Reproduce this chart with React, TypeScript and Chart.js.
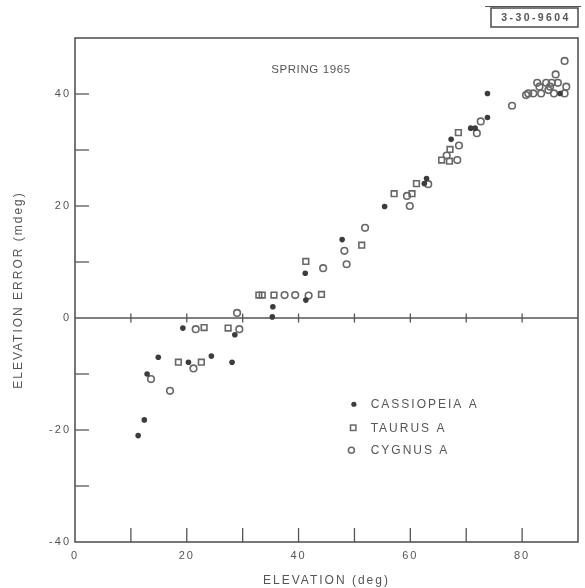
import React, { useEffect, useRef } from 'react';
import { Chart, registerables } from 'chart.js';

Chart.register(...registerables);

// Elevation (deg) and elevation error (mdeg) per radio source
const cassiopeiaElev = [11.3, 12.4, 12.9, 14.9, 19.3, 20.3, 24.4, 28.1, 28.6, 35.3, 35.4, 41.2, 41.3, 47.8, 55.4, 62.5, 62.9, 67.3, 70.8, 71.6, 73.8, 73.8, 86.8];
const cassiopeiaErr = [-21.0, -18.2, -10.0, -7.0, -1.8, -7.9, -6.8, -7.9, -3.0, 0.2, 2.0, 8.0, 3.2, 14.0, 19.9, 24.0, 24.9, 31.9, 33.9, 33.9, 35.8, 40.1, 40.1];

const taurusElev = [18.5, 22.6, 23.1, 27.4, 32.9, 33.5, 35.6, 41.3, 44.1, 51.3, 57.1, 60.3, 61.1, 65.6, 67.0, 67.1, 68.6];
const taurusErr = [-7.9, -7.9, -1.7, -1.8, 4.1, 4.1, 4.1, 10.1, 4.2, 13.0, 22.2, 22.2, 24.0, 28.2, 28.0, 30.1, 33.1];

const cygnusElev = [13.6, 17.0, 21.2, 21.6, 29.0, 29.4, 37.5, 39.4, 41.8, 44.4, 48.2, 48.6, 51.9, 59.4, 59.9, 63.2, 66.5, 68.4, 68.7, 71.9, 72.6, 78.2, 80.7, 81.1, 82.0, 82.7, 83.1, 83.4, 84.3, 84.7, 85.0, 85.3, 85.7, 86.0, 86.4, 87.6, 87.6, 87.9];
const cygnusErr = [-10.9, -13.0, -9.0, -2.0, 0.9, -2.0, 4.1, 4.1, 4.0, 8.9, 12.0, 9.6, 16.1, 21.8, 20.0, 23.9, 29.0, 28.2, 30.8, 33.0, 35.1, 37.9, 39.8, 40.1, 40.1, 42.0, 41.3, 40.1, 42.0, 40.7, 41.3, 42.0, 40.1, 43.5, 42.0, 40.1, 45.9, 41.3];

const seriesNames = ['CASSIOPEIA A', 'TAURUS A', 'CYGNUS A'];
const xTickLabels = [0, 20, 40, 60, 80];
const yTickLabels = [-40, -20, 0, 20, 40];

const INK = '#555555';
const DOT = '#3c3c3c';
const OPEN = '#676767';
const FONT = '"Liberation Sans", Arial, sans-serif';

const toPoints = (xs: number[], ys: number[]) => xs.map((x, i) => ({ x, y: ys[i] }));

const framePlugin = {
  id: 'frame',
  beforeDraw(chart: any) {
    const ctx = chart.ctx as CanvasRenderingContext2D;
    ctx.save();
    ctx.fillStyle = '#fff';
    ctx.fillRect(0, 0, chart.width, chart.height);
    ctx.restore();
    (ctx as any).letterSpacing = '2px';
  },
  beforeDatasetsDraw(chart: any) {
    const ctx = chart.ctx as CanvasRenderingContext2D;
    const { left, right, top, bottom } = chart.chartArea;
    const xs = chart.scales.x;
    const ys = chart.scales.y;
    const y0 = ys.getPixelForValue(0);
    ctx.save();
    ctx.strokeStyle = INK;
    ctx.lineWidth = 1.6;
    ctx.strokeRect(left, top, right - left, bottom - top);
    const seg = (x1: number, y1: number, x2: number, y2: number) => {
      ctx.beginPath();
      ctx.moveTo(x1, y1);
      ctx.lineTo(x2, y2);
      ctx.stroke();
    };
    seg(left, y0, right, y0);
    ctx.lineWidth = 1.3;
    for (const t of xs.ticks) {
      if (t.value <= xs.min || t.value >= xs.max) continue;
      const px = xs.getPixelForValue(t.value);
      seg(px, bottom, px, bottom - 14);
      seg(px, y0 - 4.5, px, y0 + 4.5);
    }
    for (const t of ys.ticks) {
      if (t.value <= ys.min || t.value >= ys.max || t.value === 0) continue;
      const py = ys.getPixelForValue(t.value);
      seg(left, py, left + 14, py);
    }
    ctx.restore();
  },
  afterDraw(chart: any) {
    const ctx = chart.ctx as CanvasRenderingContext2D;
    const { left, right, top } = chart.chartArea;
    const xs = chart.scales.x;
    const ys = chart.scales.y;
    ctx.save();
    ctx.fillStyle = INK;
    ctx.textBaseline = 'middle';

    // season caption inside the plot
    (ctx as any).letterSpacing = '0.6px';
    ctx.font = `11.5px ${FONT}`;
    ctx.textAlign = 'center';
    ctx.fillText('SPRING 1965', left + (right - left) * 0.469, top + 32);

    // legend
    (ctx as any).letterSpacing = '2px';
    ctx.textAlign = 'left';
    ctx.font = `12px ${FONT}`;
    const lx = xs.getPixelForValue(49.9);
    const tx = xs.getPixelForValue(52.9);
    const rows = [-15.4, -19.6, -23.6].map((v) => ys.getPixelForValue(v));
    // filled dot
    ctx.fillStyle = DOT;
    ctx.beginPath();
    ctx.arc(lx, rows[0], 2.6, 0, Math.PI * 2);
    ctx.fill();
    // square
    ctx.strokeStyle = OPEN;
    ctx.lineWidth = 1.5;
    ctx.strokeRect(lx - 3.4, rows[1] - 2.7, 5.4, 5.4);
    // open circle
    ctx.beginPath();
    ctx.arc(lx - 2.5, rows[2], 3, 0, Math.PI * 2);
    ctx.stroke();
    ctx.fillStyle = INK;
    seriesNames.forEach((name, i) => ctx.fillText(name, tx, rows[i] + 0.5));

    // report number stamp
    ctx.strokeStyle = INK;
    ctx.lineWidth = 1.6;
    ctx.strokeRect(491, 8, 87, 19);
    ctx.lineWidth = 1.2;
    ctx.beginPath();
    ctx.moveTo(485, 6.5);
    ctx.lineTo(581, 6.5);
    ctx.stroke();
    ctx.font = `bold 10.5px ${FONT}`;
    (ctx as any).letterSpacing = '2.4px';
    ctx.textAlign = 'center';
    ctx.fillText('3-30-9604', 536, 18);
    ctx.restore();
  },
};

export default function App() {
  const canvasRef = useRef<HTMLCanvasElement | null>(null);

  useEffect(() => {
    const canvas = canvasRef.current;
    if (!canvas) return;
    const chart = new Chart(canvas, {
      type: 'scatter',
      data: {
        datasets: [
          {
            label: seriesNames[0],
            data: toPoints(cassiopeiaElev, cassiopeiaErr),
            pointStyle: 'circle',
            pointRadius: 2.8,
            pointBackgroundColor: DOT,
            pointBorderWidth: 0,
          },
          {
            label: seriesNames[1],
            data: toPoints(taurusElev, taurusErr),
            pointStyle: 'rect',
            pointRadius: 4,
            pointBackgroundColor: 'rgba(255,255,255,0)',
            pointBorderColor: OPEN,
            pointBorderWidth: 1.6,
          },
          {
            label: seriesNames[2],
            data: toPoints(cygnusElev, cygnusErr),
            pointStyle: 'circle',
            pointRadius: 3.3,
            pointBackgroundColor: 'rgba(255,255,255,0)',
            pointBorderColor: OPEN,
            pointBorderWidth: 1.6,
          },
        ],
      },
      options: {
        animation: false,
        responsive: false,
        devicePixelRatio: 1,
        layout: { padding: { top: 38, right: 4, left: 0, bottom: 0 } },
        plugins: { legend: { display: false }, tooltip: { enabled: false } },
        scales: {
          x: {
            type: 'linear',
            min: 0,
            max: 90,
            grid: { display: false, drawTicks: false },
            border: { display: false },
            ticks: {
              stepSize: 10,
              padding: 7,
              color: INK,
              font: { family: FONT, size: 11 },
              maxRotation: 0,
              autoSkip: false,
              callback: (v: any) => (xTickLabels.includes(Number(v)) ? String(v) : ''),
            },
            title: {
              display: true,
              text: 'ELEVATION (deg)',
              color: INK,
              font: { family: FONT, size: 12 },
              padding: { top: 6, bottom: 0 },
            },
            afterFit: (scale: any) => {
              scale.height = 46;
            },
          },
          y: {
            type: 'linear',
            min: -40,
            max: 50,
            grid: { display: false, drawTicks: false },
            border: { display: false },
            ticks: {
              stepSize: 10,
              padding: 4,
              color: INK,
              font: { family: FONT, size: 11 },
              autoSkip: false,
              callback: (v: any) => (yTickLabels.includes(Number(v)) ? String(v) : ''),
            },
            title: {
              display: true,
              text: 'ELEVATION ERROR (mdeg)',
              color: INK,
              font: { family: FONT, size: 12 },
              padding: { top: 11, bottom: 0 },
            },
            afterFit: (scale: any) => {
              scale.width = 75;
            },
          },
        },
      },
      plugins: [framePlugin],
    });
    return () => chart.destroy();
  }, []);

  return (
    <div style={{ position: 'absolute', left: 0, top: 0, width: 585, height: 588, background: '#fff' }}>
      <canvas ref={canvasRef} width={585} height={588} />
    </div>
  );
}
